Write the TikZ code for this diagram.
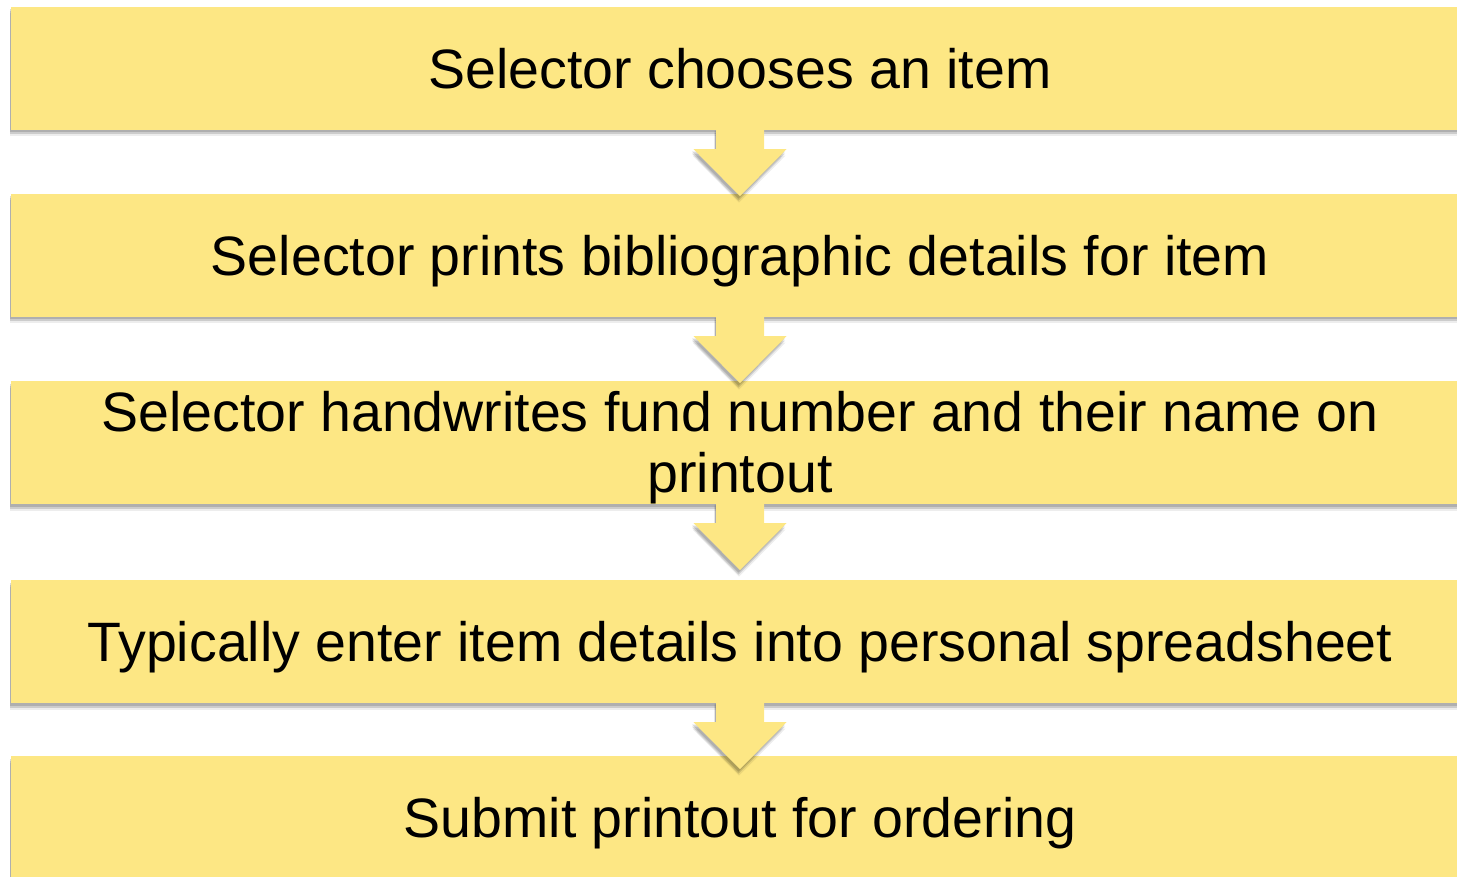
\documentclass[tikz,border=0pt]{standalone}
\usepackage{fontspec}
\setmainfont{Liberation Sans}
\usetikzlibrary{shadows,calc}
\definecolor{boxy}{RGB}{253,231,132}
\tikzset{
  softshadow/.style={
    general shadow={shadow xshift=-1.5pt, shadow yshift=-2.5pt, fill=black, opacity=.14},
    general shadow={shadow xshift=-1.5pt, shadow yshift=-4.5pt, fill=black, opacity=.14},
    general shadow={shadow xshift=-1pt, shadow yshift=-6.5pt, fill=black, opacity=.07}},
  stepbox/.style={rectangle, fill=boxy, draw=none, softshadow,
    minimum width=1458pt, minimum height=123pt, inner sep=0pt,
    text height=39.8pt, text depth=0pt,
    align=center, font=\fontsize{55.5}{61}\selectfont},
  twoline/.style={text height=100.8pt, text depth=0pt},
  flowarrow/.style={fill=boxy, draw=none, softshadow}
}
\newcommand{\flowarr}[1]{%
  \fill[flowarrow] ($(#1.south)+(-24,-2)$) -- ($(#1.south)+(-24,19)$)
    -- ($(#1.south)+(-46.5,19)$) -- ($(#1.south)+(0,66)$)
    -- ($(#1.south)+(46.5,19)$) -- ($(#1.south)+(24,19)$)
    -- ($(#1.south)+(24,-2)$) -- cycle;}
\begin{document}
\begin{tikzpicture}[x=1pt, y=-1pt]
\useasboundingbox (0,0) rectangle (1457,877);
\node[stepbox] (b1) at (740,68.5) {Selector chooses an item};
\node[stepbox] (b2) at (740,255.5) {Selector prints bibliographic details for item};
\node[stepbox, twoline] (b3) at (740,442.5) {Selector handwrites fund number and their name on\\printout};
\node[stepbox] (b4) at (740,641.5) {Typically enter item details into personal spreadsheet};
\node[stepbox] (b5) at (740,817.5) {Submit printout for ordering};
\flowarr{b1}
\flowarr{b2}
\flowarr{b3}
\flowarr{b4}
\end{tikzpicture}
\end{document}
